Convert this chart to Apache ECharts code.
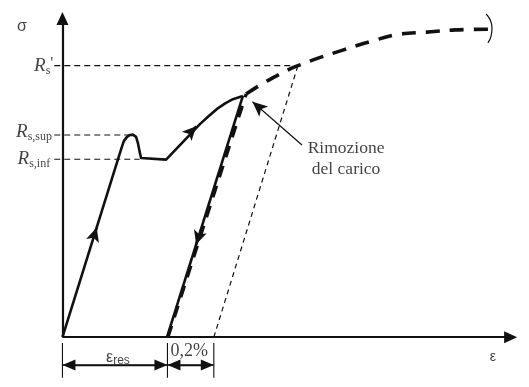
<!DOCTYPE html>
<html><head><meta charset="utf-8">
<script src="https://cdn.jsdelivr.net/npm/echarts@6/dist/echarts.min.js"></script>
<style>html,body{margin:0;padding:0;background:#fff}#c{width:529px;height:387px}</style>
</head><body><div id="c"></div>
<script>
// Stress-strain (σ-ε) diagram, abstract units: ε 0..100, σ 0..100
const loadingCurve = [[0,0],[13.0,58.2],[13.5,60.3],[14.2,61.6],[14.9,62.2],[15.5,62.3],[16.2,61.6],[16.6,59.7],[17.0,56.9],[17.3,55.1],[17.7,54.6],[22.8,54.6],[30.3,65.6],[32.2,68.0],[34.0,70.2],[35.8,71.9],[37.5,73.2],[39.7,74.2]];
const unloadingLine = [[39.7,74.2],[23.0,0]];
const reloadLine = [[23.2,0],[40.4,74.8]];
const continuationCurve = [[40.4,74.8],[43.9,77.9],[47.0,80.3],[50.1,82.5],[51.8,83.5],[55.6,85.5],[61.5,88.2],[67.7,90.9],[73.8,93.1],[80.2,93.8],[86.4,94.5],[94.1,94.7]];
const offsetLine = [[33.3,0],[51.8,83.5]];
const breakMark = [[93.2,99.4],[94.1,97.6],[94.5,95.1],[94.3,92.6],[93.6,90.5]];

// stress levels (horizontal reference lines)
const levelValues = [83.5, 62.2, 54.7];
const levelEnds = [51.8, 15.1, 17.0];
const levelStart = -1.8;
const levelSubs = ['s', 's,sup', 's,inf'];
const levelPrimes = ["'", '', ''];
const levelLabelX = [-2.0, -2.3, -2.7];
const levelLabelY = [83.5, 63.0, 54.7];

// strain marks under the axis
const strainMarks = [0, 23.1, 33.3];
const dimY = -8.55;
const tickTop = -1.8, tickBottom = -12.5;
const dimArrowInset = 1.43;

// direction arrows on the curve: [tail, head centre]
const dirArrows = [[[7.0,31.3],[7.53,33.7]], [[28.6,63.6],[29.45,64.85]], [[30.0,31.1],[29.41,28.5]]];
// annotation arrow [from, head centre]
const noteArrow = [[52.7,59.1],[41.8,72.4]];

// axis extents (to arrow-head centre)
const axisXEnd = 98.6, axisYEnd = 98.0;

// texts
const sigmaLabel = 'σ', epsLabel = 'ε';
const noteText = 'Rimozione\ndel carico';
const epsResMain = 'ε', epsResSub = 'res';
const offsetText = '0,2%';
const textPos = { sigma:[-8.9,95.4], eps:[94.7,-6.1], note:[62.4,54.8], epsRes:[12.2,-6.2], offset:[27.9,-4.3] };

const black = '#111';
const SERIF = "'Liberation Serif','Times New Roman',serif";
const SANS = "'Liberation Sans',Arial,sans-serif";

function lineSeries(data, style, extra) {
  return Object.assign({
    type:'line', data:data, showSymbol:false, symbol:'none', silent:true, animation:false, z:3,
    lineStyle:Object.assign({color:black, width:2.5, type:'solid', cap:'butt', join:'round'}, style)
  }, extra || {});
}
function arrowSeries(pairs, symbols, size, width) {
  return {
    type:'line', data:[], silent:true, animation:false, z:4,
    markLine:{
      silent:true, animation:false, symbol:symbols, symbolSize:size,
      label:{show:false}, emphasis:{disabled:true},
      lineStyle:{color:black, width:width, type:'solid', opacity:1},
      data:pairs.map(p => [{coord:p[0]},{coord:p[1]}])
    }
  };
}

const series = [];
series.push(lineSeries(loadingCurve, {width:2.6}));
series.push(lineSeries(unloadingLine, {width:2.6}));
series.push(lineSeries(reloadLine, {width:3.4, type:[12,9]}));
series.push(lineSeries(continuationCurve, {width:3.6, type:[14,10]}, {smooth:0.35}));
series.push(lineSeries(offsetLine, {width:1.2, type:[5,4]}));
series.push(lineSeries(breakMark, {width:1.2}, {smooth:0.5}));
levelValues.forEach((v,i) => series.push(lineSeries([[levelStart,v],[levelEnds[i],v]], {width:1.1, type:[6,4]})));
strainMarks.forEach(x => series.push(lineSeries([[x,tickTop],[x,tickBottom]], {width:1.1})));
series.push(lineSeries([[strainMarks[0],dimY],[strainMarks[2],dimY]], {width:1.3}));

// axes with arrows
series.push(arrowSeries([[[0,0],[0,axisYEnd]], [[0,0],[axisXEnd,0]]], ['none','triangle'], [12,13], 2.2));
// dimension arrows
series.push(arrowSeries([
  [[strainMarks[0]+dimArrowInset,dimY],[strainMarks[1]-dimArrowInset,dimY]],
  [[strainMarks[1]+dimArrowInset,dimY],[strainMarks[2]-dimArrowInset,dimY]]
], ['triangle','triangle'], [11,13], 1.3));
// direction arrows on curves
series.push(arrowSeries(dirArrows, ['none','arrow'], [10,14], 2.5));
// annotation arrow
series.push(arrowSeries([noteArrow], ['none','arrow'], [10,15], 1.2));

// labels
const labelData = [];
levelValues.forEach((v,i) => {
  labelData.push({value:[levelLabelX[i], levelLabelY[i]], label:{
    align:'right', verticalAlign:'middle',
    formatter:'{r|R}{s|' + levelSubs[i] + '}' + (levelPrimes[i] ? '{p|' + levelPrimes[i] + '}' : ''),
    rich:{
      r:{fontFamily:SERIF, fontStyle:'italic', fontSize:19, lineHeight:22, color:black},
      s:{fontFamily:SERIF, fontSize:12, lineHeight:12, verticalAlign:'bottom', color:black},
      p:{fontFamily:SERIF, fontSize:17, lineHeight:22, verticalAlign:'top', color:black}
    }
  }});
});
labelData.push({value:textPos.sigma, label:{formatter:sigmaLabel, fontFamily:SANS, fontSize:16, color:black}});
labelData.push({value:textPos.eps, label:{formatter:epsLabel, fontFamily:SANS, fontSize:14, color:black}});
labelData.push({value:textPos.note, label:{formatter:noteText, fontFamily:SERIF, fontSize:17.5, lineHeight:21, color:black, align:'center'}});
labelData.push({value:textPos.epsRes, label:{formatter:'{e|' + epsResMain + '}{s|' + epsResSub + '}',
  rich:{ e:{fontFamily:SANS, fontSize:16, lineHeight:18, color:black}, s:{fontFamily:SANS, fontSize:12, lineHeight:12, verticalAlign:'bottom', color:black} }}});
labelData.push({value:textPos.offset, label:{formatter:offsetText, fontFamily:SERIF, fontSize:18, color:black}});

series.push({
  type:'scatter', data:labelData, symbolSize:0, silent:true, animation:false, z:5,
  label:{show:true, position:'inside', align:'center', verticalAlign:'middle', color:black}
});

const chart = echarts.init(document.getElementById('c'));
chart.setOption({
  backgroundColor:'#fff',
  animation:false,
  grid:{left:17, right:12, top:12, bottom:1},
  xAxis:{type:'value', min:-10, max:100, show:false},
  yAxis:{type:'value', min:-15, max:100, show:false},
  series:series
});
</script>
</body></html>
